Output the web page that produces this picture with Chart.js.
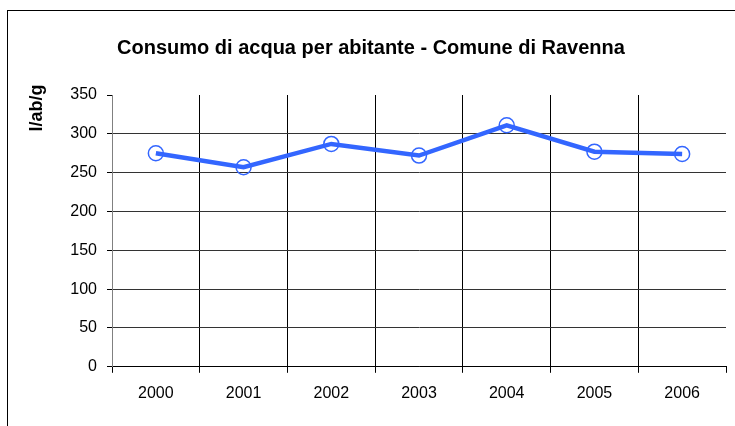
<!DOCTYPE html>
<html>
<head>
<meta charset="utf-8">
<script src="https://cdn.jsdelivr.net/npm/chart.js@4/dist/chart.umd.min.js"></script>
<style>
html, body { margin: 0; padding: 0; background: #fff; }
</style>
</head>
<body>
<canvas id="data-chart" width="735" height="426"></canvas>
<script>
var years = ['2000', '2001', '2002', '2003', '2004', '2005', '2006'];
var consumo = [275, 257, 287, 272, 311, 277, 274];
var yMin = 0, yMax = 350, yStep = 50;

Chart.defaults.font.family = '"Liberation Sans", Arial, sans-serif';
Chart.defaults.color = '#000';

// outer frame and rotated unit label
var extras = {
    id: 'extras',
    beforeDraw: function (chart) {
        var c = chart.ctx;
        c.save();
        c.strokeStyle = '#000';
        c.lineWidth = 1;
        c.strokeRect(7.5, 10.5, 800, 800);
        c.restore();
    },
    afterDraw: function (chart) {
        var c = chart.ctx;
        c.save();
        c.translate(37, 108);
        c.rotate(-Math.PI / 2);
        c.font = 'bold 18px "Liberation Sans", Arial, sans-serif';
        c.fillStyle = '#000';
        c.textAlign = 'center';
        c.textBaseline = 'middle';
        c.fillText('l/ab/g', 0, 0);
        c.restore();
    }
};

var ctx = document.getElementById('data-chart').getContext('2d');
var chart = new Chart(ctx, {
    type: 'line',
    data: {
        labels: years,
        datasets: [{
            label: 'l/ab/g',
            data: consumo,
            borderColor: '#3366ff',
            borderWidth: 4.5,
            tension: 0,
            pointRadius: 7.5,
            pointBorderWidth: 1.5,
            pointBorderColor: '#3366ff',
            pointBackgroundColor: 'rgba(0,0,0,0)'
        }]
    },
    options: {
        responsive: false,
        animation: false,
        layout: {
            padding: { left: 14, right: 7, top: 0, bottom: 12 }
        },
        plugins: {
            legend: { display: false },
            tooltip: { enabled: false },
            title: {
                display: true,
                text: 'Consumo di acqua per abitante - Comune di Ravenna',
                color: '#000',
                font: { size: 20, weight: 'bold' },
                padding: { top: 36, bottom: 35 }
            }
        },
        scales: {
            x: {
                offset: true,
                grid: {
                    offset: true,
                    color: function (c) { return c.type === 'tick' ? '#000' : 'rgba(0,0,0,0)'; },
                    tickColor: '#000',
                    tickLength: 6
                },
                border: { color: '#000' },
                ticks: { color: '#000', font: { size: 16 }, padding: 11 }
            },
            y: {
                min: yMin,
                max: yMax,
                ticks: { stepSize: yStep, color: '#000', font: { size: 16 }, padding: 10 },
                grid: {
                    color: function (c) { return c.tick && c.tick.value === yMax ? 'rgba(0,0,0,0)' : '#333'; },
                    tickColor: '#000',
                    tickLength: 5
                },
                border: { color: '#808080' },
                afterFit: function (scale) { scale.width = 98; }
            }
        }
    },
    plugins: [extras]
});
</script>
</body>
</html>
